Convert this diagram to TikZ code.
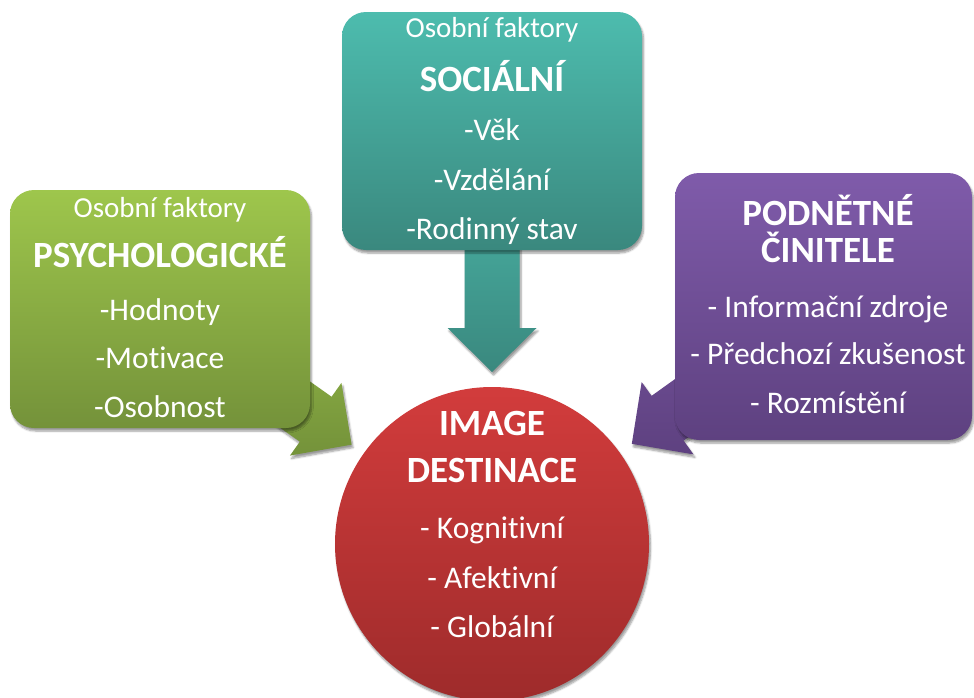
\documentclass[tikz,border=0pt]{standalone}
\usepackage{fontspec}
\setmainfont{Carlito}[Ligatures={NoCommon,NoContextual}]
\usetikzlibrary{calc,backgrounds,shadows.blur}

\definecolor{greentop}{RGB}{158,198,76}
\definecolor{greenbot}{RGB}{116,146,58}
\definecolor{tealtop}{RGB}{77,188,174}
\definecolor{tealbot}{RGB}{58,136,126}
\definecolor{violettop}{RGB}{127,91,170}
\definecolor{violetbot}{RGB}{94,65,128}
\definecolor{redtop}{RGB}{210,60,60}
\definecolor{redbot}{RGB}{158,43,43}

% fat block arrow from #2 to the tip #3, filled with #1
\newcommand{\fatarrow}[3]{%
  \coordinate (tip) at (#3);
  \coordinate (hb) at ($(tip)!44pt!(#2)$);
  \path[#1] ($(#2)!27.5pt!90:(tip)$) -- ($(hb)!27.5pt!90:(tip)$)
    -- ($(hb)!44.5pt!90:(tip)$) -- (tip) -- ($(hb)!44.5pt!-90:(tip)$)
    -- ($(hb)!27.5pt!-90:(tip)$) -- ($(#2)!27.5pt!-90:(tip)$) -- cycle;}

\begin{document}
\begin{tikzpicture}[x=1pt,y=-1pt,line join=round]
    \tikzset{shade/.style={blur shadow={shadow xshift=1.5pt,shadow yshift=-3pt,shadow blur steps=6,shadow opacity=40}},
        box/.style={rounded corners=24pt,minimum width=300pt,minimum height=238pt,inner sep=0pt,shade},
        head/.style={text=white,anchor=base,font=\fontsize{37}{40}\selectfont\bfseries},
        item/.style={text=white,anchor=base,font=\fontsize{31.5}{36}\selectfont},
        sub/.style={text=white,anchor=base,font=\fontsize{29}{34}\selectfont}}
    \useasboundingbox (0,0) rectangle (974,697);
    \clip (0,0) rectangle (974,697);

    % the three groups of factors
    \node[box,top color=greentop,bottom color=greenbot] (psych) at (160,309) {};
    \node[box,top color=tealtop,bottom color=tealbot] (soc) at (492,131) {};
    \node[box,top color=violettop,bottom color=violetbot,minimum width=297pt,minimum height=267pt] (podn) at (823.5,306.5) {};
    % destination image
    \node[circle,minimum size=314pt,inner sep=0pt,top color=redtop,bottom color=redbot,shade] (image) at (492,544) {};

    \node[sub] (psych-sub) at (160,217) {Osobní faktory};
    \node[head] (psych-head) at (160,267) {PSYCHOLOGICKÉ};
    \foreach \t/\y [count=\i] in {-Hodnoty/320,-Motivace/368,-Osobnost/417}
        \node[item] (psych-\i) at (160,\y) {\t};

    \node[sub] (soc-sub) at (492,37) {Osobní faktory};
    \node[head] (soc-head) at (492,91) {SOCIÁLNÍ};
    \foreach \t/\y [count=\i] in {-Věk/140,-Vzdělání/190,-Rodinný stav/239}
        \node[item] (soc-\i) at (492,\y) {\t};

    \node[head] (podn-head) at (828,225) {PODNĚTNÉ};
    \node[head] (podn-head2) at (828,262) {ČINITELE};
    \foreach \t/\y [count=\i] in {- Informační zdroje/317,- Předchozí zkušenost/364,- Rozmístění/413}
        \node[item] (podn-\i) at (828,\y) {\t};

    \node[head] (image-head) at (492,435) {IMAGE};
    \node[head] (image-head2) at (492,482) {DESTINACE};
    \foreach \t/\y [count=\i] in {- Kognitivní/538,- Afektivní/588,- Globální/637}
        \node[item] (image-\i) at (492,\y) {\t};

    % arrows run under the boxes
    \begin{scope}[on background layer]
        \coordinate (psych-tip) at ($(image.center)!172pt!(psych.center)$);
        \coordinate (soc-tip) at ($(image.center)!172pt!(soc.center)$);
        \coordinate (podn-tip) at ($(image.center)!172pt!(podn.center)$);
        \fatarrow{top color=greentop!80!greenbot,bottom color=greenbot,shade}{psych.center}{psych-tip}
        \fatarrow{top color=tealtop,bottom color=tealbot,shade}{soc.center}{soc-tip}
        \fatarrow{top color=violettop!70!violetbot,bottom color=violetbot,shade}{podn.center}{podn-tip}
    \end{scope}
\end{tikzpicture}
\end{document}
